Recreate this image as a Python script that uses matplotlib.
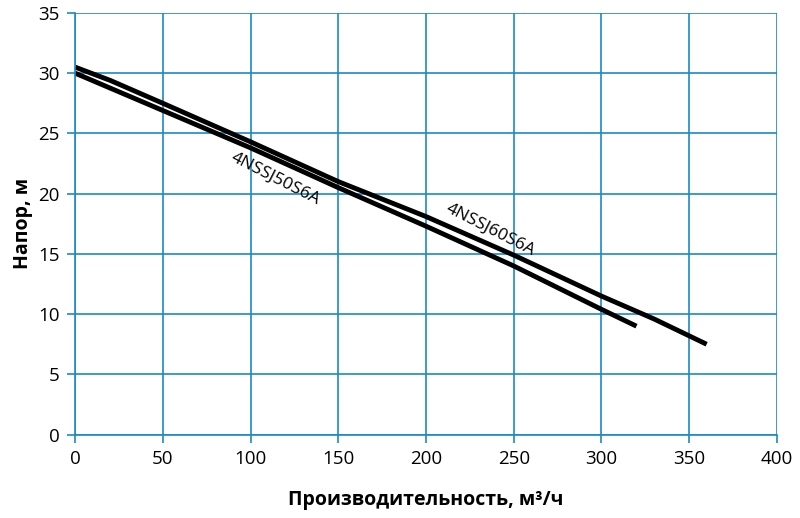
import matplotlib

matplotlib.use("Agg")

import matplotlib.pyplot as plt

# Q-H curves
flow_50 = [0, 50, 100, 150, 200, 250, 300, 320]
head_50 = [30.0, 26.9, 23.8, 20.5, 17.3, 14.0, 10.4, 9.0]

flow_60 = [0, 20, 50, 100, 150, 200, 250, 300, 330, 360]
head_60 = [30.5, 29.4, 27.5, 24.3, 21.0, 18.1, 14.9, 11.5, 9.6, 7.5]

label_50 = "4NSSJ50S6A"
label_60 = "4NSSJ60S6A"

x_ticks = list(range(0, 401, 50))
y_ticks = list(range(0, 36, 5))

grid_color = "#1b8ac4"

plt.rcParams["font.family"] = ["Open Sans", "DejaVu Sans"]

fig = plt.figure(figsize=(8.0, 5.18), dpi=100)
ax = fig.add_axes([0.094, 0.161, 0.877, 0.814])

ax.plot(flow_50, head_50, color="black", lw=3.5, solid_capstyle="butt", solid_joinstyle="round")
ax.plot(flow_60, head_60, color="black", lw=3.5, solid_capstyle="butt", solid_joinstyle="round")

ax.text(114, 21.2, label_50, rotation=-27, ha="center", va="center", fontsize=12.5)
ax.text(237, 17.0, label_60, rotation=-27, ha="center", va="center", fontsize=12.5)

ax.set_xlim(0, 400)
ax.set_ylim(0, 35)
ax.set_xticks(x_ticks)
ax.set_yticks(y_ticks)
ax.grid(True, color=grid_color, lw=1.2)
ax.set_axisbelow(True)
for side in ["top", "right"]:
    ax.spines[side].set_visible(False)
for side in ["left", "bottom"]:
    ax.spines[side].set_color(grid_color)
    ax.spines[side].set_linewidth(1.2)
ax.tick_params(axis="both", color=grid_color, width=1.2, length=6, labelsize=13.5, pad=5)

ax.set_xlabel("Производительность, м³/ч", fontsize=14, fontweight="bold", labelpad=16)
ax.set_ylabel("Напор, м", fontsize=14, fontweight="bold", labelpad=4)

fig.savefig("out.png", dpi=100)
plt.close(fig)
